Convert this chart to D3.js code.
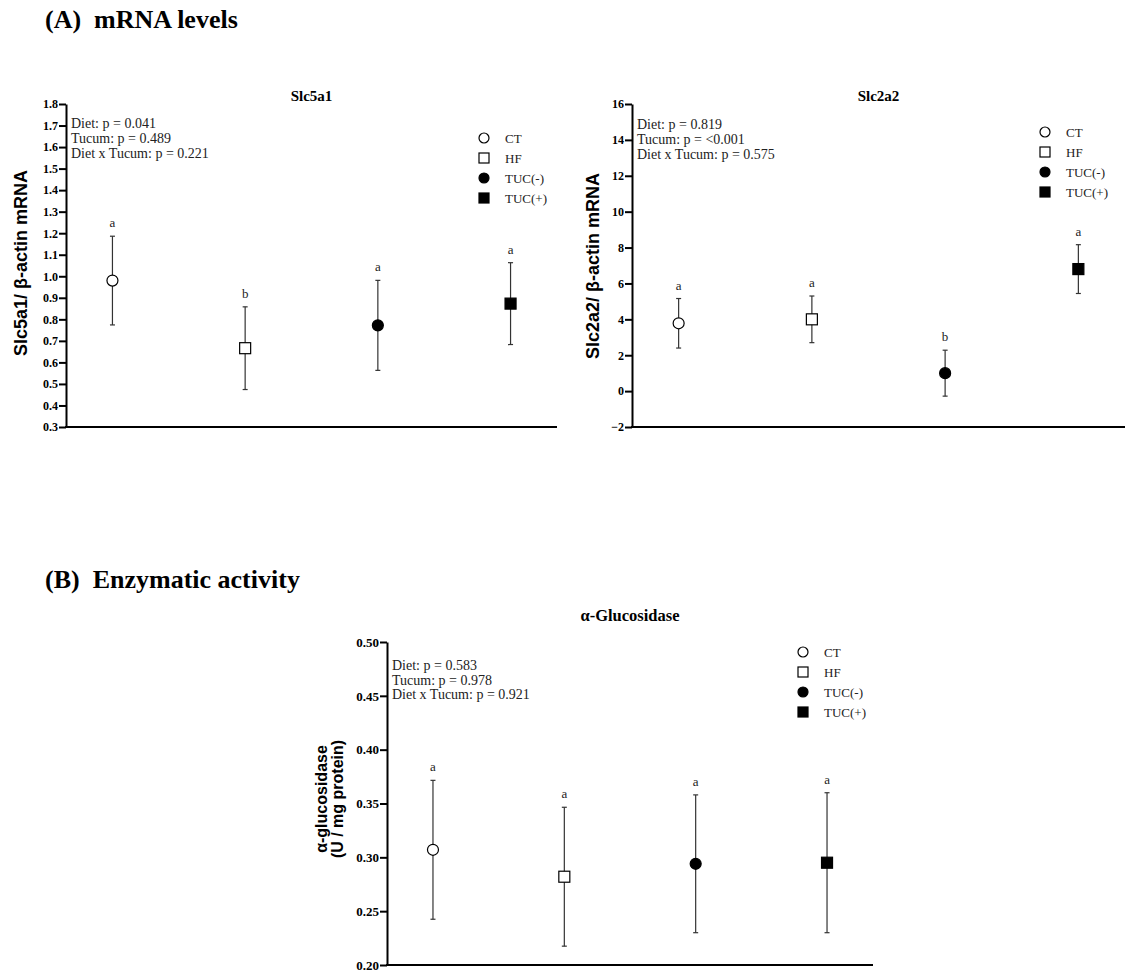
<!DOCTYPE html>
<html>
<head>
<meta charset="utf-8">
<script src="https://cdn.jsdelivr.net/npm/d3@7"></script>
<style>
  body { margin: 0; background: #fff; }
  svg { display: block; }
  .serif { font-family: "Liberation Serif", "Times New Roman", serif; }
  .sans { font-family: "Liberation Sans", Arial, sans-serif; }
</style>
</head>
<body>
<script>
// groups shared by every panel
var groups = ["CT", "HF", "TUC(-)", "TUC(+)"];

// Slc5a1 / beta-actin mRNA
var slc5a1Mean = [0.98, 0.666, 0.772, 0.873];
var slc5a1Sd = [0.206, 0.192, 0.209, 0.19];
var slc5a1Letters = ["a", "b", "a", "a"];
var slc5a1Ticks = [0.3, 0.4, 0.5, 0.6, 0.7, 0.8, 0.9, 1.0, 1.1, 1.2, 1.3, 1.4, 1.5, 1.6, 1.7, 1.8];
var slc5a1Stats = ["Diet: p = 0.041", "Tucum: p = 0.489", "Diet x Tucum: p = 0.221"];

// Slc2a2 / beta-actin mRNA
var slc2a2Mean = [3.78, 4.0, 1.0, 6.8];
var slc2a2Sd = [1.38, 1.3, 1.28, 1.36];
var slc2a2Letters = ["a", "a", "b", "a"];
var slc2a2Ticks = [-2, 0, 2, 4, 6, 8, 10, 12, 14, 16];
var slc2a2Stats = ["Diet: p = 0.819", "Tucum: p = <0.001", "Diet x Tucum: p = 0.575"];

// alpha-glucosidase activity
var glucMean = [0.307, 0.282, 0.294, 0.295];
var glucSd = [0.0645, 0.0645, 0.064, 0.065];
var glucLetters = ["a", "a", "a", "a"];
var glucTicks = [0.20, 0.25, 0.30, 0.35, 0.40, 0.45, 0.50];
var glucStats = ["Diet: p = 0.583", "Tucum: p = 0.978", "Diet x Tucum: p = 0.921"];

//width and height
var w = 1128;
var h = 974;

var svg = d3.select("body")
            .append("svg")
            .attr("width", w)
            .attr("height", h);

//section headings
svg.append("text").attr("class", "serif")
    .attr("x", 45).attr("y", 28)
    .style("font-size", "26px").style("font-weight", "bold")
    .attr("xml:space", "preserve")
    .text("(A)  mRNA levels");

svg.append("text").attr("class", "serif")
    .attr("x", 45).attr("y", 588)
    .style("font-size", "26px").style("font-weight", "bold")
    .attr("xml:space", "preserve")
    .text("(B)  Enzymatic activity");

//draws one dot plot with error bars
function drawPanel(opt) {
    var g = svg.append("g");

    var x = d3.scalePoint()
              .domain(groups)
              .range([opt.left, opt.right])
              .padding(0.35);

    var y = d3.scaleLinear()
              .domain(opt.domain)
              .range([opt.bottom, opt.top]);

    //y axis
    var yAxis = g.append("g")
        .attr("transform", "translate(" + opt.left + ",0)")
        .call(d3.axisLeft(y).tickValues(opt.ticks).tickSize(7).tickSizeOuter(0).tickFormat(d3.format(opt.fmt)));
    yAxis.select(".domain").attr("stroke-width", 2).attr("stroke", "#000");
    yAxis.selectAll(".tick line").attr("stroke-width", 2);
    yAxis.selectAll(".tick text")
        .attr("class", "serif")
        .attr("x", -8)
        .style("font-size", opt.tickFont + "px").style("font-weight", "bold")
        .attr("fill", "#000");

    //x axis line only
    g.append("line")
        .attr("x1", opt.left - 1).attr("x2", opt.right)
        .attr("y1", opt.bottom).attr("y2", opt.bottom)
        .attr("stroke", "#000").attr("stroke-width", 2);

    //title
    g.append("text").attr("class", "serif")
        .attr("x", (opt.left + opt.right) / 2).attr("y", opt.titleY)
        .attr("text-anchor", "middle")
        .style("font-size", opt.titleSize + "px").style("font-weight", "bold")
        .text(opt.title);

    //y axis label
    var label = g.append("text").attr("class", "sans")
        .attr("transform", "translate(" + opt.labelX + "," + opt.labelY + ") rotate(-90)")
        .attr("text-anchor", "middle")
        .style("font-size", opt.labelSize + "px").style("font-weight", "bold");
    opt.label.forEach(function(t, i) {
        label.append("tspan")
            .attr("x", 0)
            .attr("dy", i == 0 ? -(opt.label.length - 1) * 8 + 6 : 16)
            .text(t);
    });

    //p values
    g.selectAll(".stat")
        .data(opt.stats)
        .enter()
        .append("text").attr("class", "serif")
        .attr("x", opt.left + 5)
        .attr("y", function(d, i) { return opt.statY + i * opt.statGap; })
        .style("font-size", "14px")
        .attr("fill", "#222")
        .text(function(d) { return d; });

    var data = groups.map(function(d, i) {
        return { group: d, mean: opt.mean[i], sd: opt.sd[i], letter: opt.letters[i], i: i };
    });

    //error bars
    var bars = g.selectAll(".err").data(data).enter().append("g");
    bars.append("line")
        .attr("x1", function(d) { return x(d.group); })
        .attr("x2", function(d) { return x(d.group); })
        .attr("y1", function(d) { return y(d.mean + d.sd); })
        .attr("y2", function(d) { return y(d.mean - d.sd); })
        .attr("stroke", "#333").attr("stroke-width", 1.2);
    [1, -1].forEach(function(s) {
        bars.append("line")
            .attr("x1", function(d) { return x(d.group) - 2.5; })
            .attr("x2", function(d) { return x(d.group) + 2.5; })
            .attr("y1", function(d) { return y(d.mean + s * d.sd); })
            .attr("y2", function(d) { return y(d.mean + s * d.sd); })
            .attr("stroke", "#333").attr("stroke-width", 1.2);
    });

    //significance letters
    bars.append("text").attr("class", "serif")
        .attr("x", function(d) { return x(d.group); })
        .attr("y", function(d) { return y(d.mean + d.sd) - 9; })
        .attr("text-anchor", "middle")
        .style("font-size", "13px")
        .attr("fill", "#222")
        .text(function(d) { return d.letter; });

    //markers
    bars.each(function(d) {
        drawMarker(d3.select(this), d.i, x(d.group), y(d.mean), 5.5);
    });

    //legend
    var leg = g.selectAll(".leg")
        .data(groups)
        .enter()
        .append("g")
        .attr("transform", function(d, i) {
            return "translate(" + opt.legX + "," + (opt.legY + i * 20) + ")";
        });
    leg.each(function(d, i) { drawMarker(d3.select(this), i, 0, 0, 5); });
    leg.append("text").attr("class", "serif")
        .attr("x", 21).attr("y", 4.5)
        .style("font-size", "13px")
        .attr("fill", "#222")
        .text(function(d) { return d; });
}

//0 open circle, 1 open square, 2 filled circle, 3 filled square
function drawMarker(sel, k, cx, cy, r) {
    var fill = k >= 2 ? "#000" : "#fff";
    if (k % 2 == 0) {
        sel.append("circle")
            .attr("cx", cx).attr("cy", cy).attr("r", r)
            .attr("fill", fill).attr("stroke", "#000").attr("stroke-width", 1.2);
    } else {
        sel.append("rect")
            .attr("x", cx - r).attr("y", cy - r)
            .attr("width", 2 * r).attr("height", 2 * r)
            .attr("fill", fill).attr("stroke", "#000").attr("stroke-width", 1.2);
    }
}

drawPanel({
    title: "Slc5a1", titleSize: 15, titleY: 101, label: ["Slc5a1/ β-actin mRNA"], labelSize: 18,
    mean: slc5a1Mean, sd: slc5a1Sd, letters: slc5a1Letters, tickFont: 12,
    ticks: slc5a1Ticks, stats: slc5a1Stats, domain: [0.3, 1.8], fmt: ".1f",
    left: 66, right: 557, top: 104, bottom: 427,
    labelX: 21, labelY: 263, statY: 128, statGap: 15, legX: 484, legY: 138
});

drawPanel({
    title: "Slc2a2", titleSize: 15, titleY: 101, label: ["Slc2a2/ β-actin mRNA"], labelSize: 18,
    mean: slc2a2Mean, sd: slc2a2Sd, letters: slc2a2Letters, tickFont: 12,
    ticks: slc2a2Ticks, stats: slc2a2Stats, domain: [-2, 16], fmt: "d",
    left: 632, right: 1125, top: 104, bottom: 427,
    labelX: 593, labelY: 266, statY: 129, statGap: 15, legX: 1045, legY: 132
});

drawPanel({
    title: "α-Glucosidase", titleSize: 16.5, titleY: 621, label: ["α-glucosidase", "(U / mg protein)"], labelSize: 16,
    mean: glucMean, sd: glucSd, letters: glucLetters, tickFont: 13,
    ticks: glucTicks, stats: glucStats, domain: [0.2, 0.5], fmt: ".2f",
    left: 387, right: 873, top: 642, bottom: 965,
    labelX: 329, labelY: 799, statY: 670, statGap: 14.5, legX: 803, legY: 652
});
</script>
</body>
</html>
